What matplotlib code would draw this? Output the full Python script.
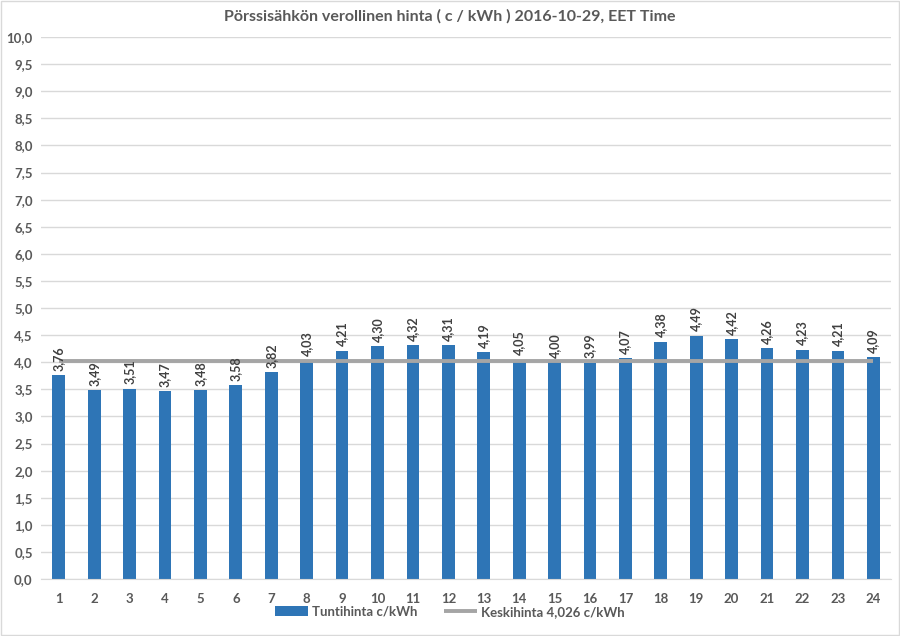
import matplotlib
matplotlib.use("Agg")
import matplotlib.pyplot as plt
from matplotlib.patches import Rectangle

hours = list(range(1, 25))
prices = [3.76, 3.49, 3.51, 3.47, 3.48, 3.58, 3.82, 4.03, 4.21, 4.30, 4.32, 4.31,
          4.19, 4.05, 4.00, 3.99, 4.07, 4.38, 4.49, 4.42, 4.26, 4.23, 4.21, 4.09]
average = 4.026
title = "Pörssisähkön verollinen hinta ( c / kWh ) 2016-10-29, EET Time"
bar_label = "Tuntihinta c/kWh"
avg_label = "Keskihinta 4,026 c/kWh"

plt.rcParams['font.family'] = ['Lato', 'DejaVu Sans']

fig = plt.figure(figsize=(9, 6.36), dpi=100)
fig.patches.append(Rectangle((0.001, 0.001), 0.998, 0.998, transform=fig.transFigure,
                             fill=False, edgecolor='#D9D9D9', linewidth=1))
ax = fig.add_axes([0.0456, 0.0896, 0.9444, 0.8522])

x = list(range(len(hours)))
bars = ax.bar(x, prices, width=0.36, color='#2E75B6', zorder=2, label=bar_label)
line, = ax.plot([x[0], x[-1]], [average] * 2, color='#A5A5A5', linewidth=2.8, zorder=3,
                label=avg_label, solid_capstyle='butt')

for xi, v in zip(x, prices):
    ax.text(xi, v + 0.08, f"{v:.2f}".replace('.', ','), rotation=90, ha='center',
            va='bottom', fontsize=9, color='#404040', fontweight='bold', zorder=4)

ax.set_xlim(-0.5, len(hours) - 0.5)
ax.set_ylim(0, 10)
yt = [i * 0.5 for i in range(21)]
ax.set_yticks(yt)
ax.set_yticklabels([f"{v:.1f}".replace('.', ',') for v in yt])
ax.set_xticks(x)
ax.set_xticklabels([str(h) for h in hours])
ax.tick_params(axis='both', length=0, labelsize=9.5, labelcolor='#595959')
ax.tick_params(axis='x', pad=10)
ax.tick_params(axis='y', pad=6)
for lab in ax.get_xticklabels() + ax.get_yticklabels():
    lab.set_fontweight('bold')
ax.grid(axis='y', color='#D9D9D9', linewidth=1, zorder=0)
ax.set_axisbelow(True)
for s in ['top', 'right', 'left']:
    ax.spines[s].set_visible(False)
ax.spines['bottom'].set_color('#D9D9D9')

fig.text(0.5, 0.975, title, ha='center', va='center', fontsize=11.5,
         fontweight='bold', color='#595959')

leg = fig.legend(handles=[bars, line], labels=[bar_label, avg_label],
                 loc='center', bbox_to_anchor=(0.5, 0.038), ncol=2, frameon=False,
                 fontsize=9.5, handlelength=2.5, handleheight=0.8, columnspacing=2.0,
                 handletextpad=0.3)
for t in leg.get_texts():
    t.set_color('#595959')
    t.set_fontweight('bold')

fig.savefig("out.png", dpi=100)
